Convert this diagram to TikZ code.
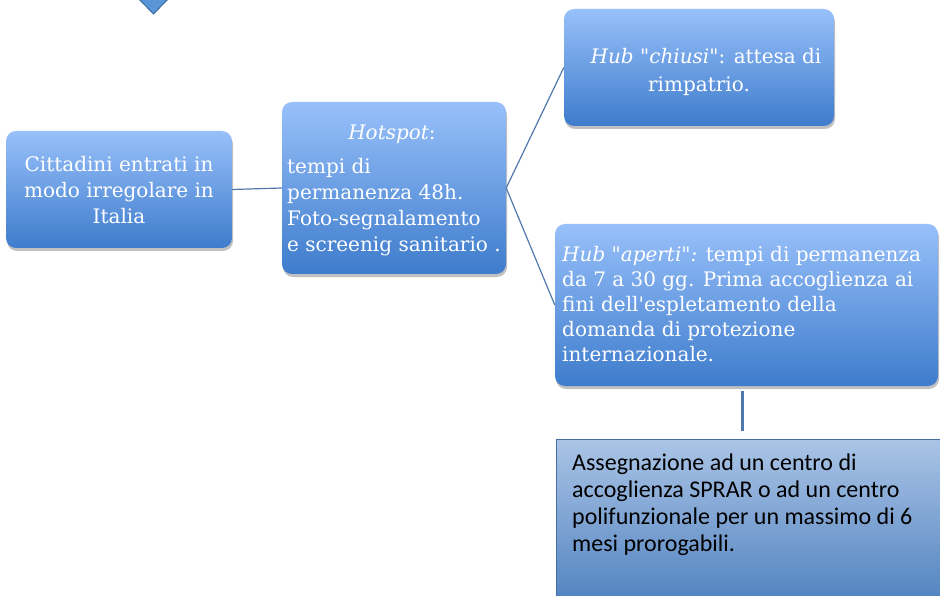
\documentclass[tikz,border=0pt]{standalone}
\usepackage{fontspec}
\setmainfont{DejaVu Serif}[Ligatures=TeXOff]
\newfontfamily\calibfont{Carlito}[Ligatures=TeXOff]
\usetikzlibrary{shadows}
\definecolor{boxtop}{RGB}{152,192,250}
\definecolor{boxbot}{RGB}{62,124,204}
\definecolor{gtop}{RGB}{170,196,230}
\definecolor{gbot}{RGB}{78,128,190}
\definecolor{gline}{RGB}{80,120,175}
\definecolor{gborder}{RGB}{70,110,165}
\definecolor{trifill}{RGB}{90,150,215}
\definecolor{tridraw}{RGB}{60,105,160}
\begin{document}
\begin{tikzpicture}[x=1pt,y=-1pt,
 bluebox/.style={rectangle, rounded corners=10pt, inner sep=0pt, top color=boxtop, bottom color=boxbot, draw=none,
   drop shadow={shadow xshift=1pt,shadow yshift=-3pt,opacity=0.35,fill=black!70}},
 sprarbox/.style={rectangle, inner sep=0pt, top color=gtop, bottom color=gbot, draw=gborder, line width=1pt},
 wtext/.style={text=white, font=\fontsize{20}{26}\selectfont, inner sep=0pt},
 ktext/.style={text=black, font=\calibfont\fontsize{24}{27}\selectfont, inner sep=0pt},
 link/.style={draw=gline, line width=1.2pt},
 stem/.style={draw=gline, line width=3pt}]
\useasboundingbox (0,0) rectangle (940,596);
% triangle at top
\filldraw[fill=trifill, draw=tridraw, line width=1pt] (138,-2) -- (169,-2) -- (153.5,14) -- cycle;
% boxes
\node[bluebox, minimum width=226pt, minimum height=117pt] (cit) at (119,189.5) {};
\node[bluebox, minimum width=224pt, minimum height=172pt] (hot) at (394,188) {};
\node[bluebox, minimum width=270pt, minimum height=117pt] (chi) at (699,67.5) {};
\node[bluebox, minimum width=383pt, minimum height=162pt] (ape) at (746.5,305) {};
\node[sprarbox, minimum width=384pt, minimum height=170pt, anchor=north west] (spr) at (556,439) {};
% connectors
\draw[link] (cit.east) -- (hot.west);
\draw[link] (hot.east) -- (chi.west);
\draw[link] (hot.east) -- (ape.west);
\coordinate (stemtop) at (742,391);
\coordinate (stembot) at (742,431);
\draw[stem] (stemtop) -- (stembot);
% texts
\node[wtext, align=center] (citt) at (119,190) {Cittadini entrati in\\modo irregolare in\\Italia};
\node[wtext, anchor=base] (hott) at (392,140) {\textit{Hotspot}:};
\node[wtext, align=left, anchor=west] (hotb) at (287,207) {tempi di\\permanenza 48h.\\Foto-segnalamento\\e screenig sanitario .};
\node[wtext, anchor=base] (chit1) at (706,64) {\textit{Hub "chiusi"}: attesa di};
\node[wtext, anchor=base] (chit2) at (699,92) {rimpatrio.};
\node[wtext, align=left, anchor=west, font=\fontsize{20}{25}\selectfont] (apet) at (562,304.5) {\textit{Hub "aperti":} tempi di permanenza\\da 7 a 30 gg. Prima accoglienza ai\\fini dell'espletamento della\\domanda di protezione\\internazionale.};
\node[ktext, align=left, anchor=west] (sprt) at (572,505) {Assegnazione ad un centro di\\accoglienza SPRAR o ad un centro\\polifunzionale per un massimo di 6\\mesi prorogabili.};
\end{tikzpicture}
\end{document}
